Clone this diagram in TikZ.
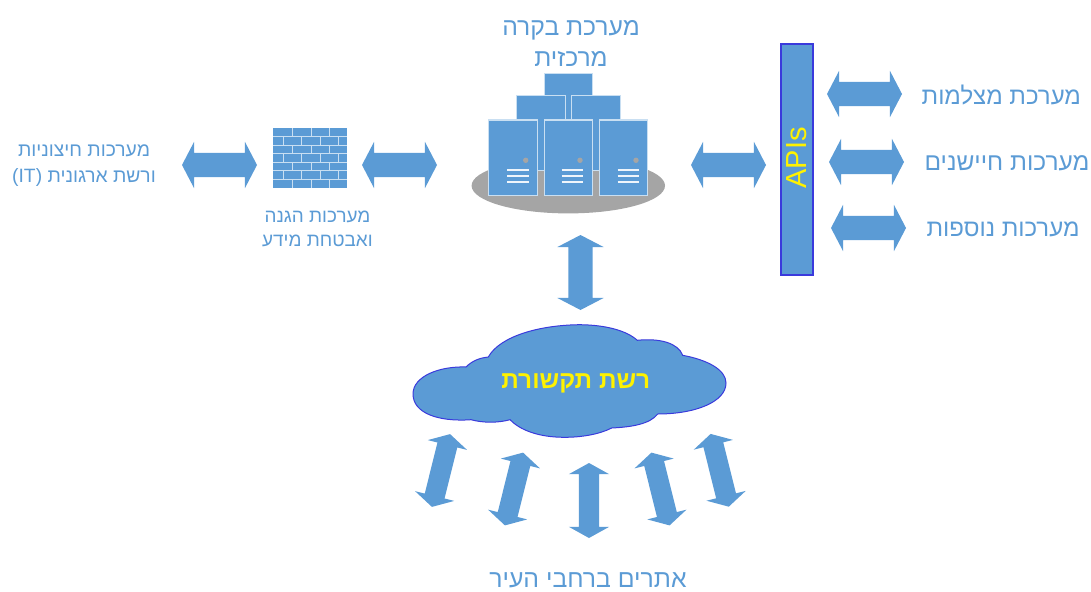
\documentclass[tikz,border=0pt]{standalone}
\usepackage{fontspec}
\usetikzlibrary{shapes.arrows,shapes.geometric}
\TeXXeTstate=1
\newfontfamily\hebfont[Script=Hebrew]{Liberation Sans}
\setmainfont{Liberation Sans}
\definecolor{bluefill}{HTML}{5B9BD5}
\definecolor{paleline}{HTML}{C9DFF2}
\definecolor{darkedge}{HTML}{3A3ADC}
\definecolor{grayfill}{HTML}{A5A5A5}
\newcommand{\heb}[1]{\beginR #1\endR}
\newcommand{\fsz}[2]{\fontsize{#1}{#2}\selectfont}
\tikzset{
  x=1pt,y=-1pt,
  blockarrow/.style={shape=double arrow,fill=bluefill,draw=none,inner xsep=0pt,inner ysep=12pt,
    minimum height=75pt,minimum width=46pt,double arrow head extend=11pt,double arrow tip angle=125},
  smallarrow/.style={blockarrow,inner ysep=10pt,minimum width=40pt,double arrow head extend=10pt,double arrow tip angle=122},
  textlabel/.style={text=bluefill,align=center,inner sep=0pt},
  serverbox/.style={rectangle,fill=bluefill,draw=paleline,line width=1pt,inner sep=0pt,minimum width=48.5pt},
  ventline/.style={draw=white!90!bluefill,line width=1.4pt},
  brick/.style={draw=paleline,line width=0.9pt},
}
\begin{document}
\begin{tikzpicture}
\useasboundingbox (0,0) rectangle (1091,591);
% base
\node[ellipse,fill=grayfill,inner sep=0pt,minimum width=193.4pt,minimum height=55.4pt] (base) at (568.3,185.7) {};
% back servers
\node[serverbox,minimum height=75pt] (s0) at (568.5,111.5) {};
\node[serverbox,minimum height=75pt] (s1) at (541,132.7) {};
\node[serverbox,minimum height=75pt] (s2) at (596,132.7) {};
% front servers
\foreach \n/\cx/\dx in {s3/513.2/525.7,s4/568.3/580,s5/623.5/636}{
  \node[serverbox,minimum height=75.7pt] (\n) at (\cx,157.85) {};
  \fill[grayfill] (\dx,160.3) circle[radius=2.7pt];
  \foreach \yy in {170,176,182}{\draw[ventline] (\dx-18.3,\yy) -- (\dx+3,\yy);}
}
% firewall
\node[rectangle,fill=bluefill,inner sep=0pt,minimum width=74pt,minimum height=59.7pt] (wall) at (310.3,157.85) {};
\foreach \k in {1,...,6}{\draw[brick] (273.3,128+8.53*\k) -- (347.3,128+8.53*\k);}
\foreach \k in {0,2,4,6}{\foreach \xx in {292.3,311,329.7}{\draw[brick] (\xx,128+8.53*\k) -- (\xx,128+8.53*\k+8.53);}}
\foreach \k in {1,3,5}{\foreach \xx in {283,301.3,320.3,338.7}{\draw[brick] (\xx,128+8.53*\k) -- (\xx,128+8.53*\k+8.53);}}
% APIs bar
\node[rectangle,fill=bluefill,draw=darkedge,line width=1.1pt,inner sep=0pt,minimum width=32pt,minimum height=231pt] (apis) at (797,159.5) {};
\node[rotate=90,text=yellow,font=\fsz{29}{29},inner sep=0pt] (apistext) at (797,158) {APIs};
% cloud
\draw[fill=bluefill,draw=darkedge,line width=1pt] (413,394)
 .. controls (413,376) and (440,366) .. (466,367)
 .. controls (472,361) and (479,358) .. (488.3,357)
 .. controls (500,336) and (540,325) .. (580,324.7)
 .. controls (607,325) and (627,331) .. (637.3,340.3)
 .. controls (660,338) and (678,343) .. (682.7,355.3)
 .. controls (708,360) and (726,370) .. (726,383)
 .. controls (726,402) and (695,414) .. (657.7,414)
 .. controls (650,424) and (632,427) .. (611.7,428)
 .. controls (600,434) and (582,437.5) .. (563,437.3)
 .. controls (538,437) and (520,430) .. (510,419.7)
 .. controls (498,423) and (483,423) .. (471,419.7)
 .. controls (438,422) and (413,413) .. (413,394) -- cycle;
\node[text=yellow,inner sep=0pt,font=\hebfont\bfseries\fsz{24.4}{24.4}] (cloudtext) at (575.8,383.7) {\heb{רשת תקשורת}};
% arrows
\node[blockarrow] (a1) at (219.5,165) {};
\node[blockarrow] (a2) at (399.5,165) {};
\node[blockarrow] (a3) at (728.5,165) {};
\node[blockarrow] (a4) at (864.5,94) {};
\node[blockarrow] (a5) at (866.5,162) {};
\node[blockarrow] (a6) at (868.5,228) {};
\node[blockarrow,rotate=90] (a7) at (580.5,272.5) {};
\node[smallarrow,rotate=76] (b1) at (441,470.5) {};
\node[smallarrow,rotate=76] (b2) at (514,489) {};
\node[smallarrow,rotate=90] (b3) at (589,500.5) {};
\node[smallarrow,rotate=104] (b4) at (660.5,489) {};
\node[smallarrow,rotate=104] (b5) at (719.7,470.3) {};
% labels
\node[textlabel,font=\hebfont\fsz{24.7}{31.5}] (central) at (571,43.5) {\heb{מערכת בקרה}\\\heb{מרכזית}};
\node[textlabel,font=\hebfont\fsz{19.3}{26}] (external) at (84,165.5) {\heb{מערכות חיצוניות}\\\heb{ורשת ארגונית \beginL(IT)\endL}};
\node[textlabel,font=\hebfont\fsz{18.9}{24.7}] (security) at (317.5,229) {\heb{מערכות הגנה}\\\heb{ואבטחת מידע}};
\node[textlabel,font=\hebfont\fsz{24}{24}] (cams) at (1001.3,95) {\heb{מערכת מצלמות}};
\node[textlabel,font=\hebfont\fsz{24.5}{24.5}] (sensors) at (1007,163.7) {\heb{מערכות חיישנים}};
\node[textlabel,font=\hebfont\fsz{24}{24}] (more) at (1003,229) {\heb{מערכות נוספות}};
\node[textlabel,font=\hebfont\fsz{24.8}{24.8}] (sites) at (588,580.5) {\heb{אתרים ברחבי העיר}};
\end{tikzpicture}
\end{document}
